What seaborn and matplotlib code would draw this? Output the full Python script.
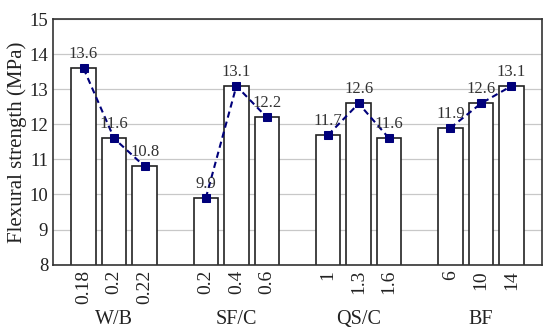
import numpy as np
import pandas as pd
import matplotlib
matplotlib.use('Agg')
import matplotlib.pyplot as plt
import seaborn as sns

# values
groups = ['W/B', 'SF/C', 'QS/C', 'BF']
levels = [['0.18', '0.2', '0.22'],
          ['0.2', '0.4', '0.6'],
          ['1', '1.3', '1.6'],
          ['6', '10', '14']]
strength = [[13.6, 11.6, 10.8],
            [9.9, 13.1, 12.2],
            [11.7, 12.6, 11.6],
            [11.9, 12.6, 13.1]]

rows = []
for g, name in enumerate(groups):
    for i, lev in enumerate(levels[g]):
        rows.append({'group': name, 'level': lev, 'pos': g * 4 + i + 1,
                     'value': strength[g][i]})
df = pd.DataFrame(rows)

sns.set_style('white')
plt.rcParams['font.family'] = ['Liberation Serif', 'DejaVu Serif']

fig = plt.figure(figsize=(5.5, 3.32), dpi=100)
ax = fig.add_axes([0.0964, 0.2033, 0.8891, 0.738])

ax.yaxis.grid(True, color='#c8c8c8', linewidth=0.9)
ax.set_axisbelow(True)

sns.barplot(data=df, x='pos', y='value', native_scale=True, width=0.8,
            color='white', edgecolor='#222222', linewidth=1.2, ax=ax,
            errorbar=None, zorder=2)

for name in groups:
    sub = df[df.group == name]
    sns.lineplot(data=sub, x='pos', y='value', ax=ax, color='#00007a',
                 linestyle=(0, (3, 2)), linewidth=1.5, marker='s',
                 markersize=6, markeredgecolor='#00007a', zorder=3)
    for _, r in sub.iterrows():
        ax.annotate(f"{r.value:g}", (r.pos, r.value), xytext=(0, 4.5),
                    textcoords='offset points', ha='center', va='bottom',
                    fontsize=12, color='#333333', zorder=4)

ax.set_xlim(0, 16)
ax.set_ylim(8, 15)
ax.set_yticks(range(8, 16))
ticks = list(range(1, 16))
labels = []
for k in ticks:
    if k % 4 == 0:
        labels.append('')
    else:
        labels.append(levels[k // 4][k % 4 - 1])
ax.set_xticks(ticks)
ax.set_xticklabels(labels, rotation=90)
ax.tick_params(axis='both', direction='in', length=4, width=1,
               color='#333333', labelsize=13.5, labelcolor='#222222')
ax.tick_params(axis='x', pad=4, labelsize=14)

for g, name in enumerate(groups):
    ax.text(g * 4 + 2, -0.225, name, transform=ax.get_xaxis_transform(),
            ha='center', va='center', fontsize=14.5, color='#222222')

ax.set_xlabel('')
ax.set_ylabel('Flexural strength (MPa)', fontsize=15, color='#222222',
              labelpad=2)
for s in ax.spines.values():
    s.set_visible(True)
    s.set_color('#333333')
    s.set_linewidth(1.2)

fig.savefig('out.png', dpi=100)
